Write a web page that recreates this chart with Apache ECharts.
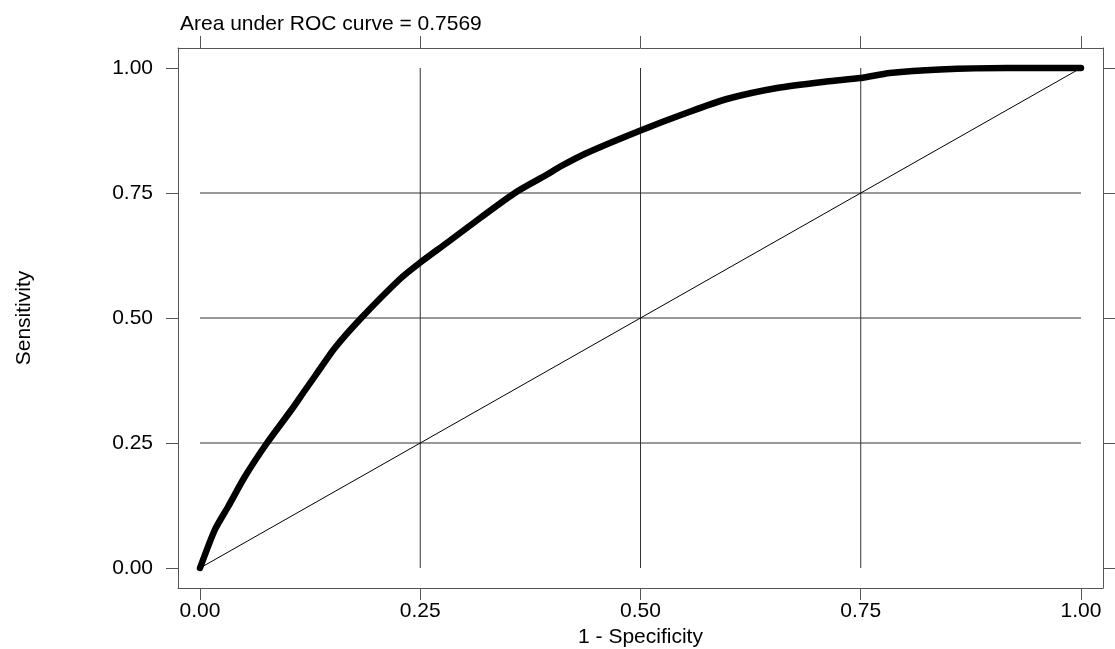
<!DOCTYPE html>
<html>
<head>
<meta charset="utf-8">
<style>
  html, body { margin: 0; padding: 0; background: #fff; overflow: hidden; }
  #main { width: 1115px; height: 649px; }
</style>
<script src="https://cdn.jsdelivr.net/npm/echarts@6/dist/echarts.min.js"></script>
</head>
<body>
<div id="main"></div>
<script>
// ROC 曲线数据
var fpr = [0, 0.017, 0.032, 0.051, 0.076, 0.104, 0.119, 0.131, 0.153, 0.183, 0.227, 0.25, 0.28, 0.318, 0.359, 0.394, 0.409, 0.439, 0.5, 0.552, 0.598, 0.655, 0.711, 0.75, 0.783, 0.84, 0.916, 1];
var tpr = [0, 0.077, 0.123, 0.183, 0.25, 0.317, 0.355, 0.385, 0.44, 0.5, 0.578, 0.611, 0.65, 0.70, 0.752, 0.787, 0.803, 0.83, 0.875, 0.91, 0.938, 0.96, 0.973, 0.98, 0.99, 0.997, 1, 1];
var tickValues = [0, 0.25, 0.5, 0.75, 1];
var gridValues = [0.25, 0.5, 0.75];
var aucText = 'Area under ROC curve = 0.7569';

var font = 'Liberation Sans, Arial, sans-serif';
var axisColor = '#555';
var gridColor = '#333';

var myChart = echarts.init(document.getElementById('main'));

var curve = fpr.map(function (x, i) { return [x, tpr[i]]; });

function axisCommon(pos, showLabel) {
    var horiz = pos === 'top' || pos === 'bottom';
    return {
        type: 'value',
        position: pos,
        min: horiz ? -0.025 : -0.04,
        max: horiz ? 1.025 : 1.04,
        splitLine: { show: false },
        axisLine: { show: true, onZero: false, lineStyle: { color: axisColor, width: 1 } },
        axisTick: {
            show: true,
            inside: false,
            length: 12,
            customValues: tickValues,
            lineStyle: { color: axisColor, width: 1 }
        },
        axisLabel: {
            show: showLabel,
            customValues: tickValues,
            fontFamily: font,
            fontSize: 21,
            color: '#000',
            margin: pos === 'left' ? 25 : 13,
            formatter: function (v) { return v.toFixed(2); }
        }
    };
}

var series = [];
// 网格线（只画在0-1范围内）
gridValues.forEach(function (v) {
    series.push({
        type: 'line', silent: true, symbol: 'none', z: 1,
        lineStyle: { color: gridColor, width: 1 },
        data: [[v, 0], [v, 1]]
    });
    series.push({
        type: 'line', silent: true, symbol: 'none', z: 1,
        lineStyle: { color: gridColor, width: 1 },
        data: [[0, v], [1, v]]
    });
});
// 对角参考线
series.push({
    type: 'line', silent: true, symbol: 'none', z: 2,
    lineStyle: { color: '#000', width: 1 },
    data: [[0, 0], [1, 1]]
});
// ROC 曲线
series.push({
    name: 'ROC',
    type: 'line', symbol: 'none', z: 3, smooth: 0.25,
    lineStyle: { color: '#000', width: 6.5, cap: 'round', join: 'round' },
    data: curve
});

var option = {
    animation: false,
    backgroundColor: '#fff',
    title: {
        text: aucText,
        left: 175,
        top: 9,
        textStyle: { fontFamily: font, fontSize: 21, fontWeight: 'normal', color: '#000' }
    },
    grid: { left: 178, width: 925, top: 48, height: 540, containLabel: false, outerBoundsMode: 'none' },
    xAxis: [
        Object.assign(axisCommon('bottom', true), {
            name: '1 - Specificity',
            nameLocation: 'middle',
            nameGap: 35,
            nameTextStyle: { fontFamily: font, fontSize: 21, color: '#000' }
        }),
        axisCommon('top', false)
    ],
    yAxis: [
        Object.assign(axisCommon('left', true), {
            name: 'Sensitivity',
            nameLocation: 'middle',
            nameGap: 143,
            nameTextStyle: { fontFamily: font, fontSize: 21, color: '#000' }
        }),
        axisCommon('right', false)
    ],
    series: series
};

myChart.setOption(option);
</script>
</body>
</html>
